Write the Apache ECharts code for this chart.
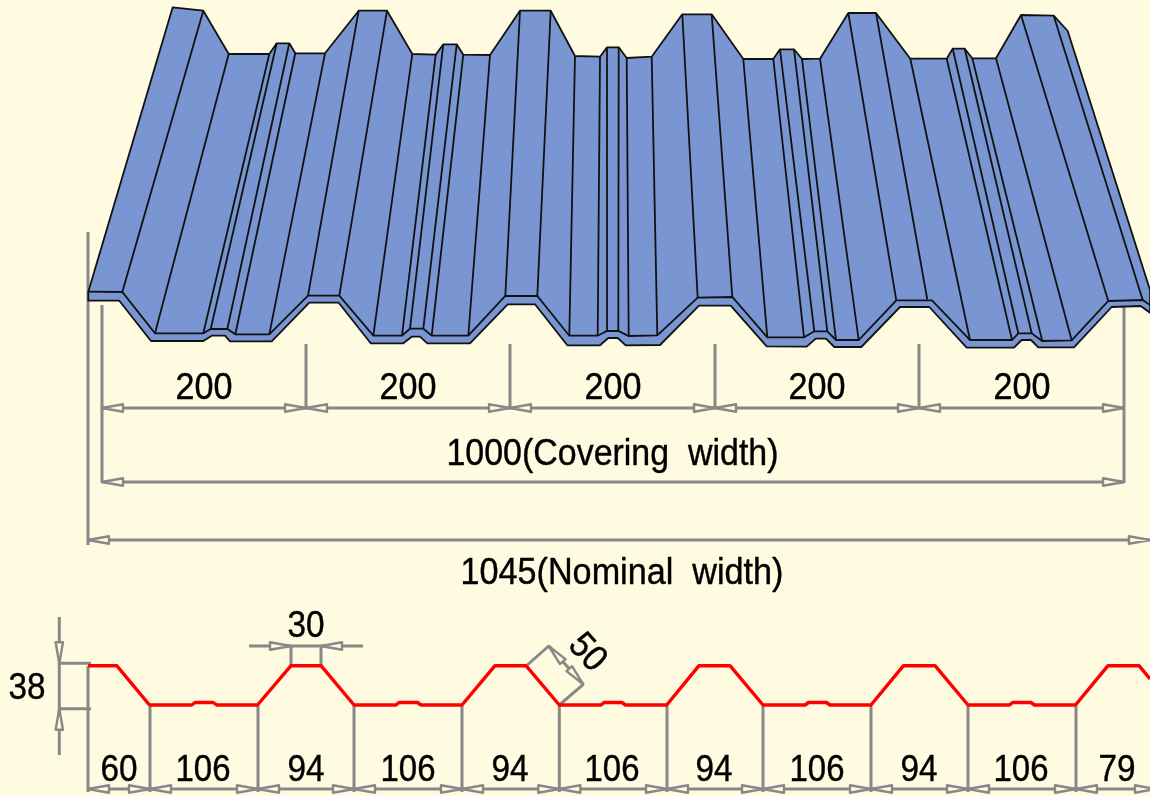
<!DOCTYPE html>
<html><head><meta charset="utf-8">
<style>html,body{margin:0;padding:0;background:#fffbe0}#c{width:1150px;height:796px}</style>
<script src="https://cdn.jsdelivr.net/npm/echarts@6/dist/echarts.min.js"></script>
</head><body><div id="c"></div>
<script>
// ---- Sheet drawing (x, y in the picture's units) ----
const sheetTop = [[172.7,7.3],[203.3,10.7],[228.7,54],[269.3,54],[276.7,43.3],[289.3,43.3],[295.3,53.3],[325,53.3],[358.7,10.7],[387,10.7],[412.3,54],[435.7,54.7],[443.3,44.3],[456.7,44.3],[463.3,54.7],[490,55],[520,10.7],[550.7,10.7],[575,56],[600,56.7],[607,47.3],[618.7,47.3],[626.7,58],[651.7,56.7],[682.3,14.3],[711.7,14.3],[743.3,59],[773.3,59],[780,49.3],[794,49.3],[802,59],[820,58.7],[848.3,13],[876,13],[910.3,58.7],[946.7,58.7],[952.7,48.7],[964.7,48.7],[972.3,58.3],[996,58.3],[1021,15],[1053.7,15.7],[1067.7,31],[1150,290]];
const sheetFold = [[88.3,291.7],[122.3,292],[155,333.3],[203.3,333.3],[210.7,329],[227.3,329],[235.3,334.3],[269.3,334.3],[308,295.7],[339.3,295.7],[373.3,335.7],[402,335.7],[410,328.7],[423.3,328.7],[431.7,335.7],[468.3,335.7],[505.3,296],[537.3,296],[569.3,335.7],[597.7,335.7],[607,331],[618.3,331],[628.7,336],[657.3,335.3],[697.7,297.7],[732.3,297],[767.3,337.3],[804,337.3],[814.3,331.3],[827.3,331.3],[836,340],[858.7,340],[896.3,300.3],[932,300.3],[970,340],[1012,340],[1018.3,333.3],[1031.7,333.3],[1042.3,341],[1071.7,340.3],[1108.3,301],[1142.7,300],[1150,305]];
const sheetEdge = [[88.3,300.7],[119.3,300.7],[151,341],[203.3,341],[211.7,335.7],[225,335.7],[230,341.3],[271.7,341.3],[309.3,302.7],[338.7,302.7],[370.7,343.3],[403.3,343.3],[411.7,336.7],[420,336.7],[427.3,343.3],[470,343.3],[507.7,304.3],[535,304.3],[567.3,345.3],[600,345.3],[608.3,338],[617.7,338],[625.7,345.3],[660,345],[699,305.7],[730.7,305.7],[766.7,346.3],[806.7,346.7],[815.7,338.7],[826,338.7],[834.3,347],[861.3,347],[900,307],[929.3,307],[966.7,347.7],[1014,347.7],[1021.7,340],[1031,340],[1038.3,347.3],[1074,347.3],[1111.7,307],[1140.7,306],[1150,312.7]];
const sheetCreases = [
[203.3,10.7,122.3,292],[228.7,54,155,333.3],[269.3,54,203.3,333.3],[276.7,43.3,210.7,329],[289.3,43.3,227.3,329],[295.3,53.3,235.3,334.3],[325,53.3,269.3,334.3],[358.7,10.7,308,295.7],[387,10.7,339.3,295.7],[412.3,54,373.3,335.7],[435.7,54.7,402,335.7],[443.3,44.3,410,328.7],[456.7,44.3,423.3,328.7],[463.3,54.7,431.7,335.7],[490,55,468.3,335.7],[520,10.7,505.3,296],[550.7,10.7,537.3,296],[575,56,569.3,335.7],[600,56.7,597.7,335.7],[607,47.3,607,331],[618.7,47.3,618.3,331],[626.7,58,628.7,336],[651.7,56.7,657.3,335.3],[682.3,14.3,697.7,297.7],[711.7,14.3,732.3,297],[743.3,59,767.3,337.3],[773.3,59,804,337.3],[780,49.3,814.3,331.3],[794,49.3,827.3,331.3],[802,59,836,340],[820,58.7,858.7,340],[848.3,13,896.3,300.3],[876,13,927.3,299.5],[910.3,58.7,970,340],[946.7,58.7,1012,340],[952.7,48.7,1018.3,333.3],[964.7,48.7,1031.7,333.3],[972.3,58.3,1042.3,341],[996,58.3,1071.7,340.3],[1021,15,1108.3,301],[1053.7,15.7,1142.7,300]];

// ---- Red profile ----
const profile = [[88,665.7],[116.7,665.7],[149.5,705],[191.7,705],[195,702.5],[213.3,702.5],[216.7,705],[257.5,705],[291,665.7],[321,665.7],[354,705],[396,705],[399,702.5],[417.5,702.5],[421,705],[462,705],[495,665.7],[526,665.7],[559.3,705],[601,705],[604,702.5],[622,702.5],[625.5,705],[666.7,705],[699,665.7],[730,665.7],[763,705],[805,705],[808.5,702.5],[826.5,702.5],[830,705],[871,705],[903.5,665.7],[935,665.7],[968,705],[1009.5,705],[1012.5,702.5],[1031,702.5],[1034.5,705],[1075.5,705],[1108,665.7],[1139,665.7],[1150,679]];

// ---- Dimension lines ----
const dimSegments = [
[88,232,88,545],[102,305,102,483],[306,344,306,408],[510,344,510,408],[715,344,715,408],[919,344,919,408],[1124,307,1124,483],
[102,408,1124,408],[102,482,1124,482],[88,540,1150,540],
[88,666,88,792],[150,706,150,792],[258,706,258,792],[354,706,354,792],[462,706,462,792],[559.3,706,559.3,792],[667,706,667,792],[763,706,763,792],[871,706,871,792],[968,706,968,792],[1076,706,1076,792],
[88,789,1150,789],
[59.3,617,59.3,755],[59.3,663.3,91,663.3],[59.3,708.7,91,708.7],
[249,646,363,646],[291,646,291,665],[321,646,321,665],
[527.3,665,548.7,646],[559.3,705,583.3,684.3],[548.7,646,583.3,684.3]
];
const chainY = [408,482,540,789];
const chainX = [[102,306,510,715,919,1124],[102,1124],[88,1150],[88,150,258,354,462,559.3,667,763,871,968,1076,1156]];
const singleArrows = [[59.3,663.3,-90],[59.3,708.7,90],[291,646,180],[321,646,0],[548.7,646,48],[583.3,684.3,228]];

// ---- Labels ----
const labelText = ['200','200','200','200','200','1000(Covering  width)','1045(Nominal  width)','30','38','50','60','106','94','106','94','106','94','106','94','106','79'];
const labelX = [204,408,613,817,1022,612.5,622,306,27,587,119,203,306,408,510,612,714,817,919,1021,1117];
const labelY = [388.5,388.5,388.5,388.5,388.5,455,574,627,689,653,770.5,770.5,770.5,770.5,770.5,770.5,770.5,770.5,770.5,770.5,770.5];
const labelW = [57,57,57,57,57,332,323,37,37,37,37,55,37,55,37,55,37,55,37,55,37];
const labelRot = [0,0,0,0,0,0,0,0,0,-48,0,0,0,0,0,0,0,0,0,0,0];

const FONT = '37px "Liberation Sans"';
const ctx = document.createElement('canvas').getContext('2d');
ctx.font = FONT;

function broken(segs){const o=[];segs.forEach(s=>{o.push([s[0],s[1]],[s[2],s[3]],['-','-']);});return o;}
const arrowLen=21, arrowHalf=3.7;
let arrows=[];
chainY.forEach((y,i)=>{const xs=chainX[i];xs.forEach((x,j)=>{
  if(j<xs.length-1)arrows.push([x,y,0]);
  if(j>0)arrows.push([x,y,180]);});});
arrows=arrows.concat(singleArrows);

const outline = sheetTop.concat(sheetEdge.slice().reverse(),[[88.3,291.7]]);
function lineSeries(data,color,width,z,join){return {type:'line',data,showSymbol:false,silent:true,z,connectNulls:false,clip:true,animation:false,
  lineStyle:{color,width,join:join||'miter',cap:'butt'},emphasis:{disabled:true}};}

const chart = echarts.init(document.getElementById('c'),null,{renderer:'canvas'});
chart.setOption({
  backgroundColor:'#fffbe0',animation:false,tooltip:{show:false},legend:{show:false},
  grid:{left:0,right:0,top:0,bottom:0},
  xAxis:{type:'value',min:0,max:1150,show:false},
  yAxis:{type:'value',min:0,max:796,inverse:true,show:false},
  series:[
    lineSeries(broken(dimSegments),'#888888',3,1),
    {type:'custom',silent:true,z:2,clip:true,data:arrows,
      renderItem:(p,api)=>{const x=api.value(0),y=api.value(1),a=api.value(2)*Math.PI/180,c=Math.cos(a),s=Math.sin(a);
        const pts=[[x,y],[x+arrowLen*c-arrowHalf*s,y+arrowLen*s+arrowHalf*c],[x+arrowLen*c+arrowHalf*s,y+arrowLen*s-arrowHalf*c]].map(q=>api.coord(q));
        return {type:'polygon',shape:{points:pts},style:{fill:'#fffbe0',stroke:'#888888',lineWidth:2.4,lineJoin:'round'}};}},
    {type:'custom',silent:true,z:3,data:[[0,0]],clip:true,
      renderItem:(p,api)=>({type:'polygon',shape:{points:outline.map(q=>api.coord(q))},
        style:{fill:'#7a96d2',stroke:'#111',lineWidth:1.8,lineJoin:'round'}})},
    lineSeries(broken(sheetCreases),'#111',1.8,4),
    lineSeries(sheetFold,'#111',1.8,4),
    lineSeries(profile,'#ff0000',3.4,6,'round'),
    {type:'custom',silent:true,z:7,clip:false,data:labelText.map((t,i)=>[labelX[i],labelY[i],i]),
      renderItem:(p,api)=>{const i=api.value(2),c=api.coord([labelX[i],labelY[i]]);
        const w=ctx.measureText(labelText[i]).width;
        return {type:'text',x:c[0],y:c[1],rotation:labelRot[i]*Math.PI/180,scaleX:labelW[i]/w,scaleY:1,
          style:{text:labelText[i],font:FONT,fill:'#000',stroke:'#000',lineWidth:0.4,align:'center',verticalAlign:'middle'}};}}
  ]
});
</script></body></html>
